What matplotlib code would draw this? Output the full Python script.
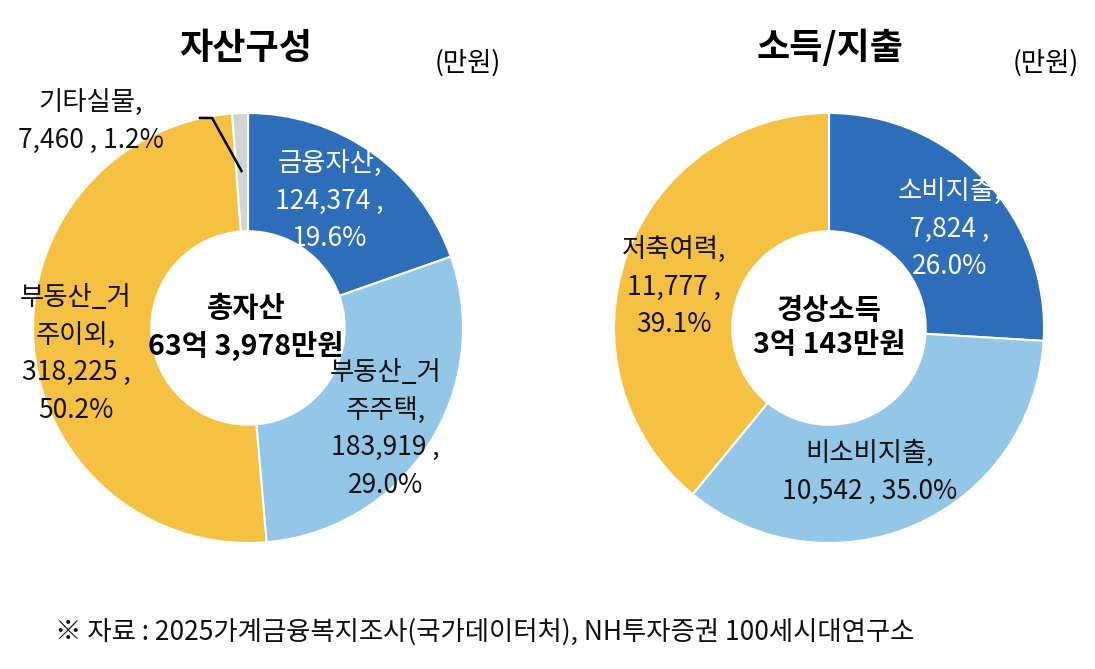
import matplotlib.pyplot as plt

plt.rcParams['font.family'] = ['Noto Sans CJK KR', 'DejaVu Sans']

# Left donut: asset composition (만원)
asset_labels = ['금융자산', '부동산_거주주택', '부동산_거주이외', '기타실물']
asset_values = [124374, 183919, 318225, 7460]
asset_pcts = [19.6, 29.0, 50.2, 1.2]
asset_total = '총자산\n63억 3,978만원'

# Right donut: income / spending (만원)
income_labels = ['소비지출', '비소비지출', '저축여력']
income_values = [7824, 10542, 11777]
income_pcts = [26.0, 35.0, 39.1]
income_total = '경상소득\n3억 143만원'

colors = ['#2E6DB9', '#93C6E7', '#F4C143', '#D3D3D3']

W, H = 1095, 669
R = 215  # outer radius in pixels

fig = plt.figure(figsize=(W / 100, H / 100), dpi=100)


def donut_axes(cx, cy):
    ax = fig.add_axes([(cx - R) / W, (H - cy - R) / H, 2 * R / W, 2 * R / H])
    return ax


def finish(ax):
    ax.set_xlim(-1, 1)
    ax.set_ylim(-1, 1)
    ax.set_aspect('equal')
    ax.axis('off')


def fmt(v):
    return f'{v:,}'


lsize = 19
ls = 1.5
dark = '#111111'

# ---- left
ax1 = donut_axes(248, 328)
ax1.pie(asset_values, colors=colors, startangle=90, counterclock=False,
        radius=1, wedgeprops=dict(width=0.55, edgecolor='white', linewidth=1.5))
finish(ax1)

ax1.text(0.38, 0.59, f'{asset_labels[0]},\n{fmt(asset_values[0])} ,\n{asset_pcts[0]:.1f}%',
         ha='center', va='center', color='white', fontsize=lsize, linespacing=ls)
ax1.text(0.64, -0.47, f'부동산_거\n주주택,\n{fmt(asset_values[1])} ,\n{asset_pcts[1]:.1f}%',
         ha='center', va='center', color=dark, fontsize=lsize, linespacing=ls)
ax1.text(-0.80, -0.12, f'부동산_거\n주이외,\n{fmt(asset_values[2])} ,\n{asset_pcts[2]:.1f}%',
         ha='center', va='center', color=dark, fontsize=lsize, linespacing=ls)
ax1.text(-0.73, 0.96, f'{asset_labels[3]},\n{fmt(asset_values[3])} , {asset_pcts[3]:.1f}%',
         ha='center', va='center', color=dark, fontsize=lsize, linespacing=ls,
         clip_on=False)
# leader line for the small wedge
ax1.plot([-0.223, -0.167, -0.03], [0.977, 0.977, 0.73], color='black', lw=1.8,
         clip_on=False)
ax1.text(-0.01, 0.0, asset_total, ha='center', va='center', fontsize=20.5,
         fontweight='bold', linespacing=1.3)

# ---- right
ax2 = donut_axes(829, 328)
ax2.pie(income_values, colors=colors[:3], startangle=90, counterclock=False,
        radius=1, wedgeprops=dict(width=0.55, edgecolor='white', linewidth=1.5))
finish(ax2)

ax2.text(0.56, 0.46, f'{income_labels[0]},\n{fmt(income_values[0])} ,\n{income_pcts[0]:.1f}%',
         ha='center', va='center', color='white', fontsize=lsize, linespacing=ls)
ax2.text(0.19, -0.67, f'{income_labels[1]},\n{fmt(income_values[1])} , {income_pcts[1]:.1f}%',
         ha='center', va='center', color=dark, fontsize=lsize, linespacing=ls)
ax2.text(-0.72, 0.19, f'{income_labels[2]},\n{fmt(income_values[2])} ,\n{income_pcts[2]:.1f}%',
         ha='center', va='center', color=dark, fontsize=lsize, linespacing=ls)
ax2.text(0.0, 0.0, income_total, ha='center', va='center', fontsize=20.5,
         fontweight='bold', linespacing=1.3)

# ---- titles
fig.text(246 / W, 1 - 48 / H, '자산구성', ha='center', va='center',
         fontsize=26, fontweight='bold')
fig.text(830 / W, 1 - 48 / H, '소득/지출', ha='center', va='center',
         fontsize=26, fontweight='bold')
fig.text(468 / W, 1 - 63 / H, '(만원)', ha='center', va='center', fontsize=19)
fig.text(1046 / W, 1 - 63 / H, '(만원)', ha='center', va='center', fontsize=19)

fig.text(55 / W, 1 - 632 / H,
         '※ 자료 : 2025가계금융복지조사(국가데이터처), NH투자증권 100세시대연구소',
         ha='left', va='center', fontsize=19, color=dark)

fig.savefig('out.png', dpi=100, facecolor='white')
